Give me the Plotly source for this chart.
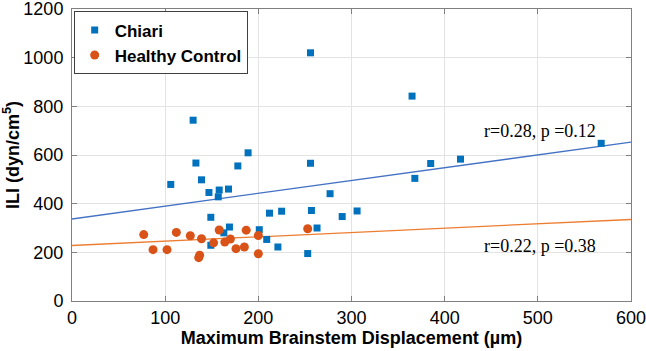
import plotly.graph_objects as go

# ---- data ----
chiari_x = [106, 130, 133, 139, 147, 158, 157, 168, 178, 189, 149, 149, 163, 169,
            201, 212, 225, 209, 221, 256, 256, 257, 263, 253, 277, 290, 306, 365,
            368, 385, 417, 568]
chiari_y = [479, 743, 567, 498, 446, 456, 428, 460, 555, 609, 344, 229, 280, 304,
            293, 361, 369, 253, 222, 1020, 566, 372, 300, 195, 441, 347, 370, 842,
            504, 565, 583, 648]

control_x = [77, 87, 102, 112, 127, 139, 136, 137, 152, 158, 164, 170, 176, 185,
             187, 200, 200, 253]
control_y = [273, 211, 211, 282, 268, 256, 178, 188, 239, 292, 242, 255, 215, 222,
             291, 269, 194, 297]

fit_x = [0, 600]
chiari_fit_y = [337, 653]
control_fit_y = [228, 335]

x_ticks = [0, 100, 200, 300, 400, 500, 600]
y_ticks = [0, 200, 400, 600, 800, 1000, 1200]

stats_chiari = "r=0.28, p =0.12"
stats_control = "r=0.22, p =0.38"

BLUE = "#0072BD"
ORANGE = "#D95319"
SANS = "Arial, 'Liberation Sans', sans-serif"
SERIF = "'Times New Roman', 'Liberation Serif', serif"

fig = go.Figure()

fig.add_trace(go.Scatter(
    x=fit_x, y=chiari_fit_y, mode="lines", showlegend=False,
    line=dict(color="#4472C4", width=1.3), hoverinfo="skip"))
fig.add_trace(go.Scatter(
    x=fit_x, y=control_fit_y, mode="lines", showlegend=False,
    line=dict(color="#ED7D31", width=1.3), hoverinfo="skip"))

fig.add_trace(go.Scatter(
    x=chiari_x, y=chiari_y, mode="markers", name="Chiari",
    marker=dict(symbol="square", size=7, color=BLUE, line=dict(width=0))))
fig.add_trace(go.Scatter(
    x=control_x, y=control_y, mode="markers", name="Healthy Control",
    marker=dict(symbol="circle", size=9, color=ORANGE, line=dict(width=0))))

fig.add_annotation(x=502, y=700, text=stats_chiari, showarrow=False,
                   font=dict(family=SERIF, size=18, color="black"))
fig.add_annotation(x=502, y=226, text=stats_control, showarrow=False,
                   font=dict(family=SERIF, size=18, color="black"))

axis_common = dict(
    showline=True, linecolor="#808080", linewidth=1, mirror="ticks",
    ticks="inside", ticklen=5, tickcolor="#808080",
    showgrid=True, gridcolor="#e3e3e3", gridwidth=1, zeroline=False,
    tickfont=dict(family=SANS, size=18, color="black"),
    automargin=False, ticklabeloverflow="allow",
)

fig.update_xaxes(range=[0, 600], tickvals=x_ticks,
                 title=dict(text="<b>Maximum Brainstem Displacement (µm)</b>",
                            font=dict(family=SANS, size=18, color="black"),
                            standoff=2),
                 **axis_common)
fig.update_yaxes(range=[0, 1200], tickvals=y_ticks, ticklabelstandoff=4,
                 title=dict(text="<b>ILI (dyn/cm<sup>5</sup>)</b>",
                            font=dict(family=SANS, size=18, color="black"),
                            standoff=4),
                 **axis_common)

fig.update_layout(
    width=646, height=351,
    margin=dict(l=72, r=15, t=9, b=50, autoexpand=False),
    paper_bgcolor="white", plot_bgcolor="white",
    showlegend=True,
    legend=dict(x=0.003, y=0.992, xanchor="left", yanchor="top",
                bgcolor="white", bordercolor="#404040", borderwidth=1,
                font=dict(family=SANS, size=17, color="black", weight="bold"),
                itemwidth=30, tracegroupgap=0),
)

fig.write_html("out.html",
               config={"displayModeBar": False},
               post_script="document.body.style.margin='0';document.body.style.overflow='hidden';")
